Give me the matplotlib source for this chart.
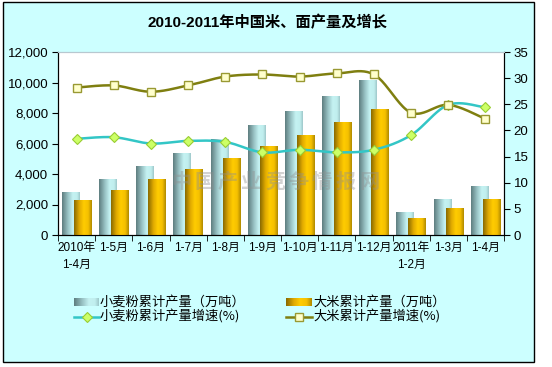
import numpy as np
import matplotlib
matplotlib.use("Agg")
import matplotlib.pyplot as plt
from matplotlib.patches import Rectangle
from matplotlib.colors import LinearSegmentedColormap

plt.rcParams['font.family'] = ['Liberation Sans', 'Noto Sans CJK SC', 'DejaVu Sans']

# ---------------- data ----------------
categories = ["2010年\n1-4月", "1-5月", "1-6月", "1-7月", "1-8月", "1-9月", "1-10月",
              "1-11月", "1-12月", "2011年\n1-2月", "1-3月", "1-4月"]
wheat_output = [2840, 3670, 4520, 5380, 6290, 7210, 8130, 9110, 10160, 1510, 2360, 3210]
rice_output = [2295, 2950, 3670, 4350, 5070, 5840, 6560, 7430, 8260, 1115, 1770, 2360]
wheat_growth = [18.4, 18.7, 17.5, 18.0, 17.8, 15.8, 16.3, 15.8, 16.3, 19.1, 24.9, 24.4]
rice_growth = [28.2, 28.6, 27.4, 28.6, 30.3, 30.7, 30.3, 30.9, 30.7, 23.4, 24.9, 22.2]
left_ticks = [0, 2000, 4000, 6000, 8000, 10000, 12000]
right_ticks = [0, 5, 10, 15, 20, 25, 30, 35]

title = "2010-2011年中国米、面产量及增长"
legend_labels = ["小麦粉累计产量（万吨）", "大米累计产量（万吨）",
                 "小麦粉累计产量增速(%)", "大米累计产量增速(%)"]
watermark = "中国产业竞争情报网"

W, H = 552, 367
fig = plt.figure(figsize=(W / 100, H / 100), dpi=100)
fig.patch.set_facecolor("white")

# background frame
bg = fig.add_axes([0, 0, 1, 1], zorder=-5)
bg.set_xlim(0, W); bg.set_ylim(H, 0); bg.axis("off")
bg.add_patch(Rectangle((3, 2), 531, 360, facecolor="#ccffff", edgecolor="#000000", lw=1.0))

wheat_cmap = LinearSegmentedColormap.from_list(
    "w", [(0, "#5e7e80"), (0.35, "#9cc6c8"), (0.6, "#c4f2f2"), (0.85, "#c0eeee"), (1, "#9ec8ca")])
rice_cmap = LinearSegmentedColormap.from_list(
    "r", [(0, "#8a6a00"), (0.3, "#e0aa00"), (0.55, "#ffcc00"), (0.8, "#f5c000"), (1, "#b08a00")])
grad = np.linspace(0, 1, 64).reshape(1, -1)

# plot area
L, R, T, B = 58, 504, 52, 235
ax = fig.add_axes([L / W, (H - B) / H, (R - L) / W, (B - T) / H])
ax.set_facecolor("white")
x = np.arange(len(categories))
bw = 0.46
wb = ax.bar(x - 0.165, wheat_output, width=bw, color="none", edgecolor="none", zorder=2)
rb = ax.bar(x + 0.16, rice_output, width=bw, color="none", edgecolor="none", zorder=3)
for bars, cmap, z in ((wb, wheat_cmap, 2), (rb, rice_cmap, 3)):
    for p in bars:
        x0, y0 = p.get_x(), p.get_y()
        im = ax.imshow(grad, cmap=cmap, aspect="auto", interpolation="bilinear",
                       extent=(x0, x0 + p.get_width(), y0, y0 + p.get_height()), zorder=z)
        im.set_clip_path(p)
ax.set_xlim(-0.5, len(categories) - 0.5)
ax.set_ylim(0, 12000)
ax.set_yticks(left_ticks)
ax.set_yticklabels([f"{v:,}" for v in left_ticks], fontsize=9.5)
ax.set_xticks(x)
ax.set_xticklabels(categories, fontsize=8.5, linespacing=1.55)
ax.set_xticks(np.arange(len(categories) + 1) - 0.5, minor=True)
ax.tick_params(axis="x", which="major", length=0, pad=5)
ax.tick_params(axis="x", which="minor", length=4, direction="out", color="#000000")
ax.tick_params(axis="y", length=4, direction="out", pad=3)
for s in ("left", "bottom"):
    ax.spines[s].set_color("#000000")
ax.spines["top"].set_color("#b8c8d0")
ax.spines["right"].set_color("#000000")
for lab in ax.get_xticklabels():
    lab.set_horizontalalignment("center")

# growth lines
ax2 = ax.twinx()
ax2.set_ylim(0, 35)
ax2.set_yticks(right_ticks)
ax2.set_yticklabels([str(v) for v in right_ticks], fontsize=9.5)
ax2.tick_params(axis="y", length=4, direction="out", pad=3)
ax2.spines["right"].set_color("#000000")
ax2.spines["top"].set_color("#b8c8d0")


def smooth(xs, ys, n=24):
    pts = np.column_stack([xs, ys]).astype(float)
    P = np.vstack([pts[0], pts, pts[-1]])
    out = []
    t = np.linspace(0, 1, n)[:, None]
    for i in range(len(pts) - 1):
        p0, p1, p2, p3 = P[i], P[i + 1], P[i + 2], P[i + 3]
        c = 0.5 * ((2 * p1) + (-p0 + p2) * t + (2 * p0 - 5 * p1 + 4 * p2 - p3) * t ** 2
                   + (-p0 + 3 * p1 - 3 * p2 + p3) * t ** 3)
        out.append(c if i == 0 else c[1:])
    c = np.vstack(out)
    return c[:, 0], c[:, 1]


wc, rc = "#33c6c6", "#7f7f10"
sx, sy = smooth(x, wheat_growth)
ax2.plot(sx, sy, color=wc, lw=1.8, zorder=4)
ax2.plot(x, wheat_growth, ls="none", marker="D", ms=5, mfc="#ccff66", mec="#99cc33", mew=0.8, zorder=5)
sx, sy = smooth(x, rice_growth)
ax2.plot(sx, sy, color=rc, lw=1.8, zorder=4)
ax2.plot(x, rice_growth, ls="none", marker="s", ms=6, mfc="#ffffcc", mec="#999933", mew=1.0, zorder=5)

# title
fig.text(268 / W, 1 - 23 / H, title, ha="center", va="center", fontsize=11, fontweight="bold",
         family=["Liberation Sans", "Noto Sans CJK SC"])

# watermark (one glyph per position)
for i, ch in enumerate(watermark):
    fig.text((181 + i * 23.5) / W, 1 - 181 / H, ch, ha="center", va="center", fontsize=14.5,
             fontweight="bold", color="#909090", alpha=0.4, family=["Noto Sans CJK SC"])

# legend (manual, in pixel coordinates)
lg = fig.add_axes([0, 0, 1, 1], zorder=5)
lg.set_xlim(0, W); lg.set_ylim(H, 0); lg.axis("off")
lg.imshow(grad, cmap=wheat_cmap, extent=(74, 99, 306, 298), aspect="auto", interpolation="bilinear")
lg.imshow(grad, cmap=rice_cmap, extent=(286, 312, 306, 298), aspect="auto", interpolation="bilinear")
lg.set_xlim(0, W); lg.set_ylim(H, 0)
lg.plot([74, 99], [317, 317], color=wc, lw=1.8)
lg.plot([86.5], [317], marker="D", ms=5, mfc="#ccff66", mec="#99cc33", mew=0.8)
lg.plot([286, 312], [317, 317], color=rc, lw=1.8)
lg.plot([299], [317], marker="s", ms=6, mfc="#ffffcc", mec="#999933", mew=1.0)
fs = 9.5
for (tx, ty), lab in zip([(100, 302), (313, 302), (100, 317), (313, 317)], legend_labels):
    lg.text(tx, ty, lab, ha="left", va="center", fontsize=fs, family=["Noto Sans CJK SC", "Liberation Sans"])

fig.savefig("out.png", dpi=100, facecolor="white")
